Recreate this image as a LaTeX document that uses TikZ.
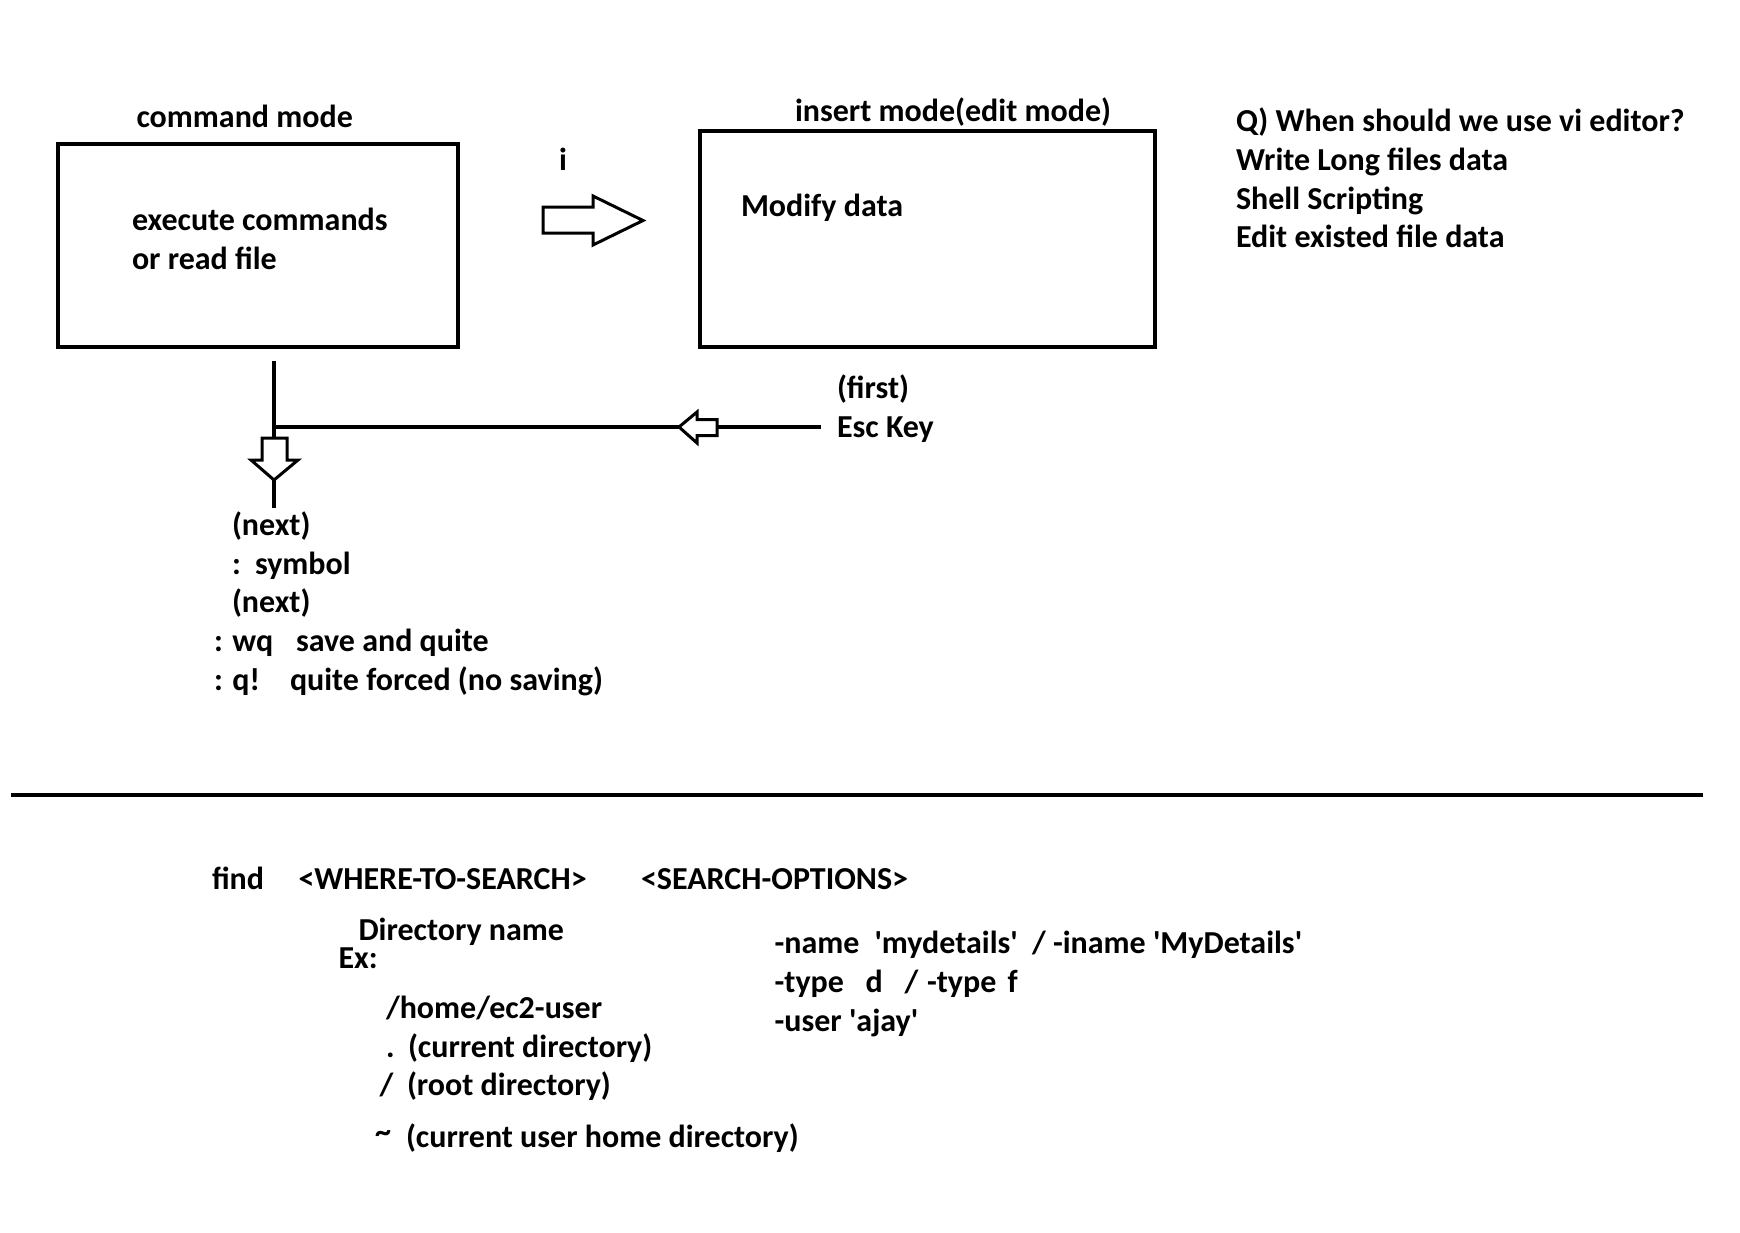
\documentclass[tikz,border=0pt]{standalone}
\usepackage{fontspec}
\setmainfont{Carlito}
\begin{document}
\begin{tikzpicture}[x=1pt,y=-1pt,
  every node/.style={inner sep=0pt,outer sep=0pt},
  txt/.style={anchor=mid west,yshift=-9.5pt,font=\fontsize{32}{36}\selectfont\bfseries},
  modebox/.style={draw,line width=4pt,rectangle,minimum width=#1},
  conn/.style={line width=3.5pt},
  blockarrow/.style={draw,line width=3pt,line join=miter}]
\useasboundingbox[fill=white] (0,0) rectangle (1740,1232);

% --- vi modes ---
\node[modebox=400pt,minimum height=203pt] (cmd) at (258,245.5) {};
\node[modebox=455pt,minimum height=216pt] (ins) at (927.5,239) {};
\node[txt] (cmdlbl) at (136.5,116) {command mode};
\node[txt] (inslbl) at (795,110) {insert mode(edit mode)};
\node[txt] (cmdtxt1) at (132,219) {execute commands};
\node[txt] (cmdtxt2) at (132,257.5) {or read file};
\node[txt] (instxt) at (741,205) {Modify data};
\node[txt] (ikey) at (559,159) {i};

% block arrow: command -> insert
\draw[blockarrow] (543,207) -- (593,207) -- (593,196) -- (643,220.5)
  -- (593,245) -- (593,233) -- (543,233) -- cycle;

% --- when to use vi ---
\node[txt] (q)  at (1236,120) {Q) When should we use vi editor?};
\node[txt] (q1) at (1236,159) {Write Long files data};
\node[txt] (q2) at (1236,197.5) {Shell Scripting};
\node[txt] (q3) at (1236,236) {Edit existed file data};

% --- leaving insert mode ---
\node[txt] (first) at (837,387) {(first)};
\node[txt] (esc) at (837,426) {Esc Key};
\coordinate (escend) at (821,427);
\coordinate (lefttip) at (679,427);
\coordinate (leftback) at (717,427);
\coordinate (junction) at (274,427);
\coordinate (vtop) at (274,361);
\coordinate (downtop) at (274,438);
\coordinate (downtip) at (274,480);
\coordinate (downend) at (274,508);

\draw[conn] (escend) -- (leftback);
\draw[conn] (lefttip) -- (junction);
\draw[conn] (vtop) -- (downtop);
\draw[conn] (downtip) -- (downend);

% small hollow arrow pointing left
\draw[blockarrow] (lefttip) -- (697,412) -- (697,419.5) -- (717,419.5)
  -- (717,435.5) -- (697,435.5) -- (697,443) -- cycle;
% small hollow arrow pointing down
\draw[blockarrow] (262,438) -- (287,438) -- (287,460) -- (298,460)
  -- (downtip) -- (251,460) -- (262,460) -- cycle;

% --- next steps ---
\node[txt] (next1) at (232,524) {(next)};
\node[txt] (colon) at (232,562.6) {:};
\node[txt] (symbol) at (255,562.6) {symbol};
\node[txt] (next2) at (232,601) {(next)};
\node[txt] (wq) at (214,640) {: wq};
\node[txt] (wqtxt) at (296,640) {save and quite};
\node[txt] (qf) at (214,679) {: q!};
\node[txt] (qftxt) at (290,679) {quite forced (no saving)};

% --- divider ---
\coordinate (divl) at (11,794.5);
\coordinate (divr) at (1703,794.5);
\draw[line width=4pt] (divl) -- (divr);

% --- find command ---
\node[txt] (find) at (212,878) {find};
\node[txt] (where) at (298.5,878) {<WHERE-TO-SEARCH>};
\node[txt] (opts) at (641,878) {<SEARCH-OPTIONS>};
\node[txt] (dirname) at (358.5,929) {Directory name};
\node[txt] (ex) at (338.5,957) {Ex:};
\node[txt] (home) at (386,1006.5) {/home/ec2-user};
\node[txt] (dot) at (386,1045.5) {.};
\node[txt] (dottxt) at (408,1045.5) {(current directory)};
\node[txt] (root) at (379.5,1084) {/};
\node[txt] (roottxt) at (407,1084) {(root directory)};
\node[txt] (tilde) at (375,1131) {\textasciitilde};
\node[txt] (tildetxt) at (406,1136) {(current user home directory)};

\node[txt] (nm) at (774.6,942) {-name};
\node[txt] (nmval) at (874.5,942) {\textquotesingle mydetails\textquotesingle};
\node[txt] (inm) at (1032,942) {/ -iname \textquotesingle MyDetails\textquotesingle};
\node[txt] (ty) at (774.6,981) {-type};
\node[txt] (tyd) at (865.6,981) {d};
\node[txt] (tysl) at (904.5,981) {/};
\node[txt] (ty2) at (927,981) {-type};
\node[txt] (tyf) at (1007.6,981) {f};
\node[txt] (usr) at (774.6,1020) {-user \textquotesingle ajay\textquotesingle};
\end{tikzpicture}
\end{document}
